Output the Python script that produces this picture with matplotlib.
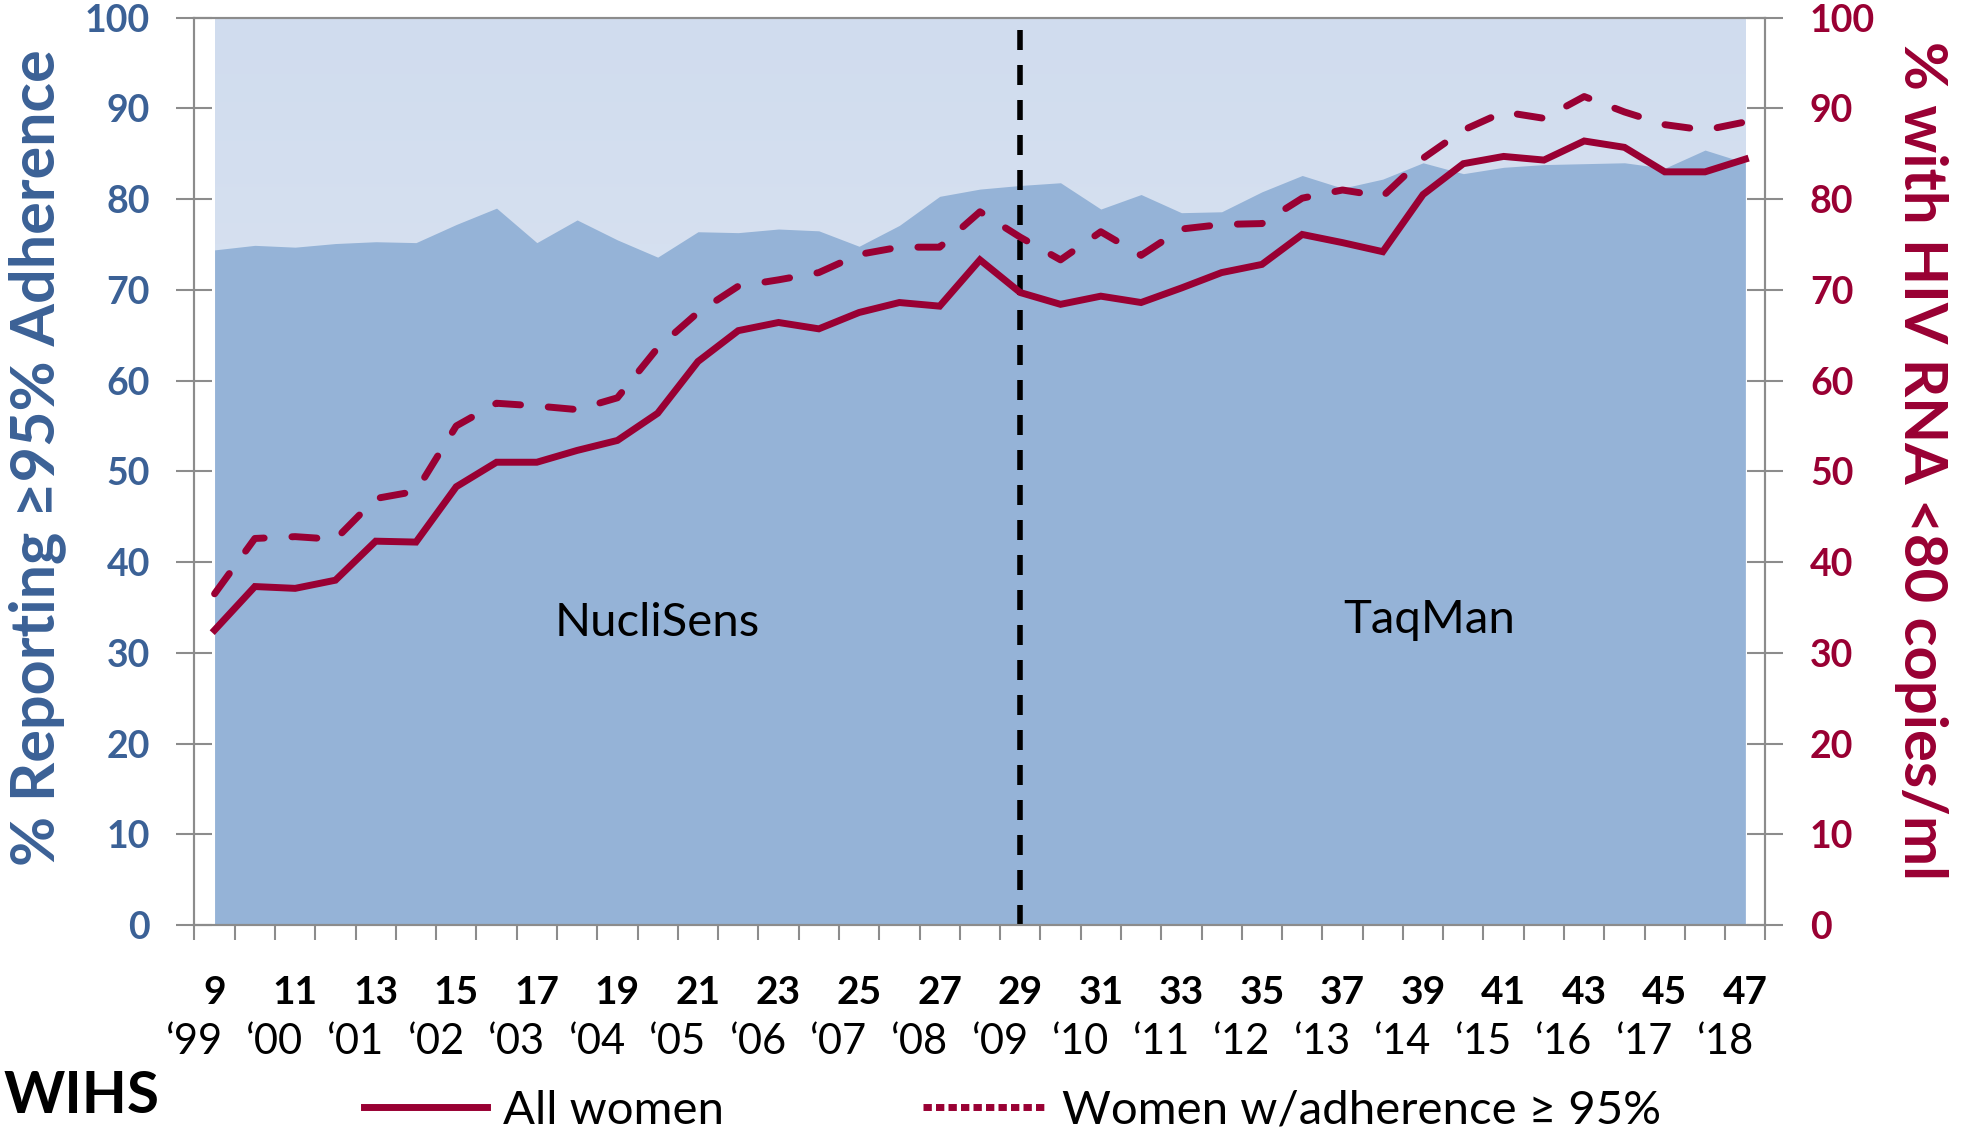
import numpy as np
import matplotlib.pyplot as plt
import matplotlib.transforms as mtransforms
from matplotlib.colors import LinearSegmentedColormap
from matplotlib.lines import Line2D

plt.rcParams['font.family'] = ['Lato', 'DejaVu Sans']

# WIHS visits 9..47 (two visits per year, '99..'18)
visits = list(range(9, 48))
visit_labels = [str(v) for v in range(9, 48, 2)]
year_labels = ['‘99', '‘00', '‘01', '‘02', '‘03', '‘04', '‘05', '‘06', '‘07', '‘08',
               '‘09', '‘10', '‘11', '‘12', '‘13', '‘14', '‘15', '‘16', '‘17', '‘18']

# % reporting >=95% adherence (area, left axis)
adherence = [74.4, 74.9, 74.7, 75.1, 75.3, 75.2, 77.2, 79.0, 75.2, 77.7,
             75.5, 73.6, 76.4, 76.3, 76.7, 76.5, 74.8, 77.1, 80.3, 81.1,
             81.5, 81.8, 78.9, 80.5, 78.5, 78.6, 80.8, 82.6, 81.2, 82.2,
             84.0, 82.8, 83.5, 83.8, 83.9, 84.0, 83.4, 85.4, 84.0]

# % with HIV RNA <80 copies/ml (right axis)
all_women = [32.5, 37.3, 37.1, 38.0, 42.3, 42.2, 48.3, 51.0, 51.0, 52.3,
             53.4, 56.4, 62.1, 65.5, 66.4, 65.7, 67.5, 68.6, 68.2, 73.3,
             69.7, 68.4, 69.3, 68.6, 70.2, 71.9, 72.8, 76.1, 75.2, 74.2,
             80.5, 83.9, 84.7, 84.3, 86.4, 85.7, 83.0, 83.0, 84.4]
adherent_women = [36.5, 42.6, 42.8, 42.5, 47.0, 47.8, 55.0, 57.5, 57.2, 56.8,
                  58.1, 63.6, 67.5, 70.4, 71.1, 71.9, 73.9, 74.7, 74.7, 78.6,
                  75.8, 73.3, 76.4, 73.8, 76.7, 77.2, 77.3, 80.1, 81.0, 80.3,
                  84.5, 87.6, 89.6, 88.9, 91.3, 89.6, 88.2, 87.6, 88.5]

assay_switch = 29

blue = '#3B6196'
red = '#990033'
grey = '#8C8C8C'

fig = plt.figure(figsize=(19.66, 11.42), dpi=100)
ax = fig.add_axes([0.0989, 0.190, 0.7991, 0.7946])

# light gradient background + adherence area
grad = np.linspace(1, 0, 256).reshape(-1, 1)
cmap = LinearSegmentedColormap.from_list('bg', ['#E6ECF6', '#D0DCEE'])
ax.imshow(grad, extent=(visits[0], visits[-1], 0, 100), aspect='auto',
          cmap=cmap, zorder=0, origin='upper')
ax.fill_between(visits, 0, adherence, color='#95B3D7', lw=0, zorder=1)

ax.set_xlim(8.5, 47.5)
ax.set_ylim(0, 100)

for s in ax.spines.values():
    s.set_color(grey)
    s.set_linewidth(1.5)

ax.set_yticks(range(0, 101, 10))
ax.tick_params(axis='y', direction='inout', length=26, width=1.5, color=grey,
               labelsize=27, labelcolor=blue, pad=19)
for lab in ax.get_yticklabels():
    lab.set_fontweight('bold')

ax.set_xticks(np.arange(8.5, 48, 1))
ax.set_xticklabels([])
ax.tick_params(axis='x', direction='out', length=11, width=1.5, color=grey)

trans = mtransforms.blended_transform_factory(ax.transData, ax.transAxes)
for i, lab in enumerate(visit_labels):
    ax.text(9 + 2 * i, -0.074, lab, transform=trans, ha='center', va='center',
            fontsize=28, fontweight='bold', color='black')
for i, lab in enumerate(year_labels):
    ax.text(8.5 + 2 * i, -0.129, lab, transform=trans, ha='center', va='center',
            fontsize=30, color='black')

ax2 = ax.twinx()
ax2.set_ylim(0, 100)
ax2.set_yticks(range(0, 101, 10))
for s in ax2.spines.values():
    s.set_color(grey)
    s.set_linewidth(1.5)
ax2.tick_params(axis='y', direction='inout', length=26, width=1.5, color=grey,
                labelsize=27, labelcolor=red, pad=19)
for lab in ax2.get_yticklabels():
    lab.set_fontweight('bold')

ax2.plot([assay_switch, assay_switch], [0, 99.5], color='black', lw=4,
         ls=(0, (3.6, 2.7)), zorder=2)
ax2.plot(visits, all_women, color=red, lw=5, solid_joinstyle='miter', zorder=3)
ax2.plot(visits, adherent_women, color=red, lw=5, ls=(0, (3.6, 4.0)),
         dash_capstyle='round', zorder=3)

ax2.text(20, 33.3, 'NucliSens', ha='center', va='center', fontsize=34, color='black')
ax2.text(39.15, 33.6, 'TaqMan', ha='center', va='center', fontsize=34, color='black')

fig.text(0.019, 0.599, '% Reporting ≥95% Adherence', rotation=90, ha='center',
         va='center', fontsize=44, fontweight='bold', color=blue)
fig.text(0.977, 0.597, '% with HIV RNA <80 copies/ml', rotation=270, ha='center',
         va='center', fontsize=43, fontweight='bold', color=red)

handles = [Line2D([], [], color=red, lw=5),
           Line2D([], [], color=red, lw=5, ls=(0, (1.2, 0.6)))]
fig.legend(handles, ['All women', 'Women w/adherence ≥ 95%'], loc='center',
           bbox_to_anchor=(0.515, 0.0274), ncol=2, frameon=False, fontsize=34,
           handlelength=2.6, handletextpad=0.35, columnspacing=4.2)

# WIHS logo text at bottom-left
fig.text(0.002, 0.04, 'WIHS', ha='left', va='center', fontsize=42,
         fontweight='bold', color='black')

fig.savefig('out.png', dpi=100)
